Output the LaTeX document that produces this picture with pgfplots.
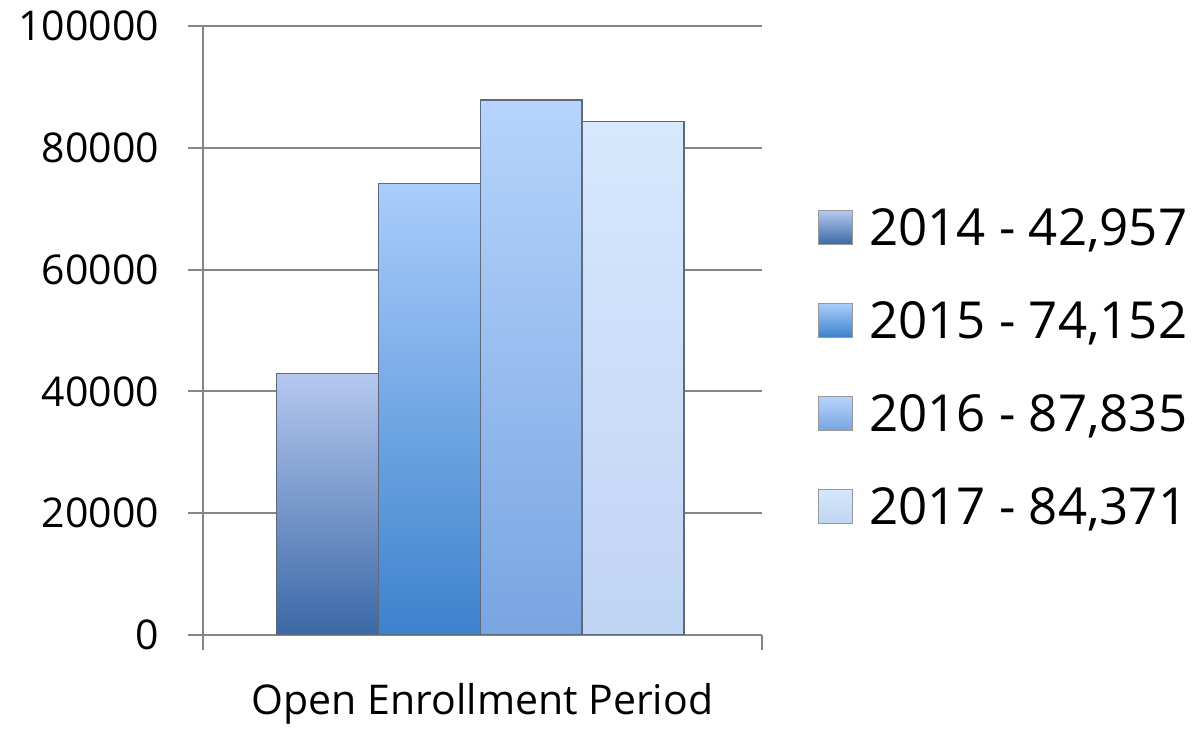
\documentclass[border=0pt]{standalone}
\usepackage{pgfplots}
\pgfplotsset{compat=1.18}
\usepackage{fontspec}
\setmainfont{Open Sans}
\usetikzlibrary{calc}

\definecolor{gridgray}{RGB}{134,134,134}
\definecolor{edgec}{RGB}{95,105,125}
\definecolor{aT}{RGB}{182,200,240}\definecolor{aB}{RGB}{58,104,166}
\definecolor{bT}{RGB}{170,205,252}\definecolor{bB}{RGB}{60,130,205}
\definecolor{cT}{RGB}{182,212,252}\definecolor{cB}{RGB}{120,165,225}
\definecolor{dT}{RGB}{214,232,253}\definecolor{dB}{RGB}{192,212,244}

\begin{document}
\begin{tikzpicture}
\begin{axis}[
  name=ax,
  scale only axis, width=279.5pt, height=304.5pt,
  xmin=-0.223, xmax=5.267, ymin=0, ymax=100000,
  axis x line=bottom, axis y line=left,
  axis line style={gridgray, -, line width=1pt},
  ytick={0,20000,40000,60000,80000,100000},
  yticklabels={0,20000,40000,60000,80000,100000},
  ymajorgrids, grid style={gridgray, line width=1pt},
  tick align=outside, major tick length=7.5pt,
  tick style={gridgray, line width=1pt},
  xtick={-0.223,5.267}, xticklabels={,,},
  scaled y ticks=false,
  ticklabel style={font=\fontsize{20.5}{25}\selectfont},
  yticklabel style={xshift=-11pt},
  xlabel={Open Enrollment Period},
  xlabel style={at={(rel axis cs:0.5,0)}, anchor=north, yshift=-20.5pt, font=\fontsize{20.5}{25}\selectfont},
  legend style={at={(rel axis cs:1.1,0.701)}, anchor=north west, draw=none, fill=none,
    inner sep=0pt, nodes={inner sep=0pt},
    /tikz/every odd column/.append style={column sep=8pt},
    font=\fontsize{25.5}{30}\selectfont, row sep=26.5pt},
  legend cell align=left,
  legend image code/.code={\draw[#1, draw=gray!80, line width=0.5pt] (0pt,-8pt) rectangle (17pt,9pt);},
]
\addplot[ybar, bar width=1, bar shift=0pt, draw=edgec, line width=0.6pt, top color=aT, bottom color=aB] coordinates {(1,42957)};
\addlegendentry{2014 - 42,957}
\addplot[ybar, bar width=1, bar shift=0pt, draw=edgec, line width=0.6pt, top color=bT, bottom color=bB] coordinates {(2,74152)};
\addlegendentry{2015 - 74,152}
\addplot[ybar, bar width=1, bar shift=0pt, draw=edgec, line width=0.6pt, top color=cT, bottom color=cB] coordinates {(3,87835)};
\addlegendentry{2016 - 87,835}
\addplot[ybar, bar width=1, bar shift=0pt, draw=edgec, line width=0.6pt, top color=dT, bottom color=dB] coordinates {(4,84371)};
\addlegendentry{2017 - 84,371}
\end{axis}
\path ($(ax.south west)+(-101.5pt,-41.5pt)$) rectangle ($(ax.north east)+(217.5pt,13pt)$);
\end{tikzpicture}
\end{document}
